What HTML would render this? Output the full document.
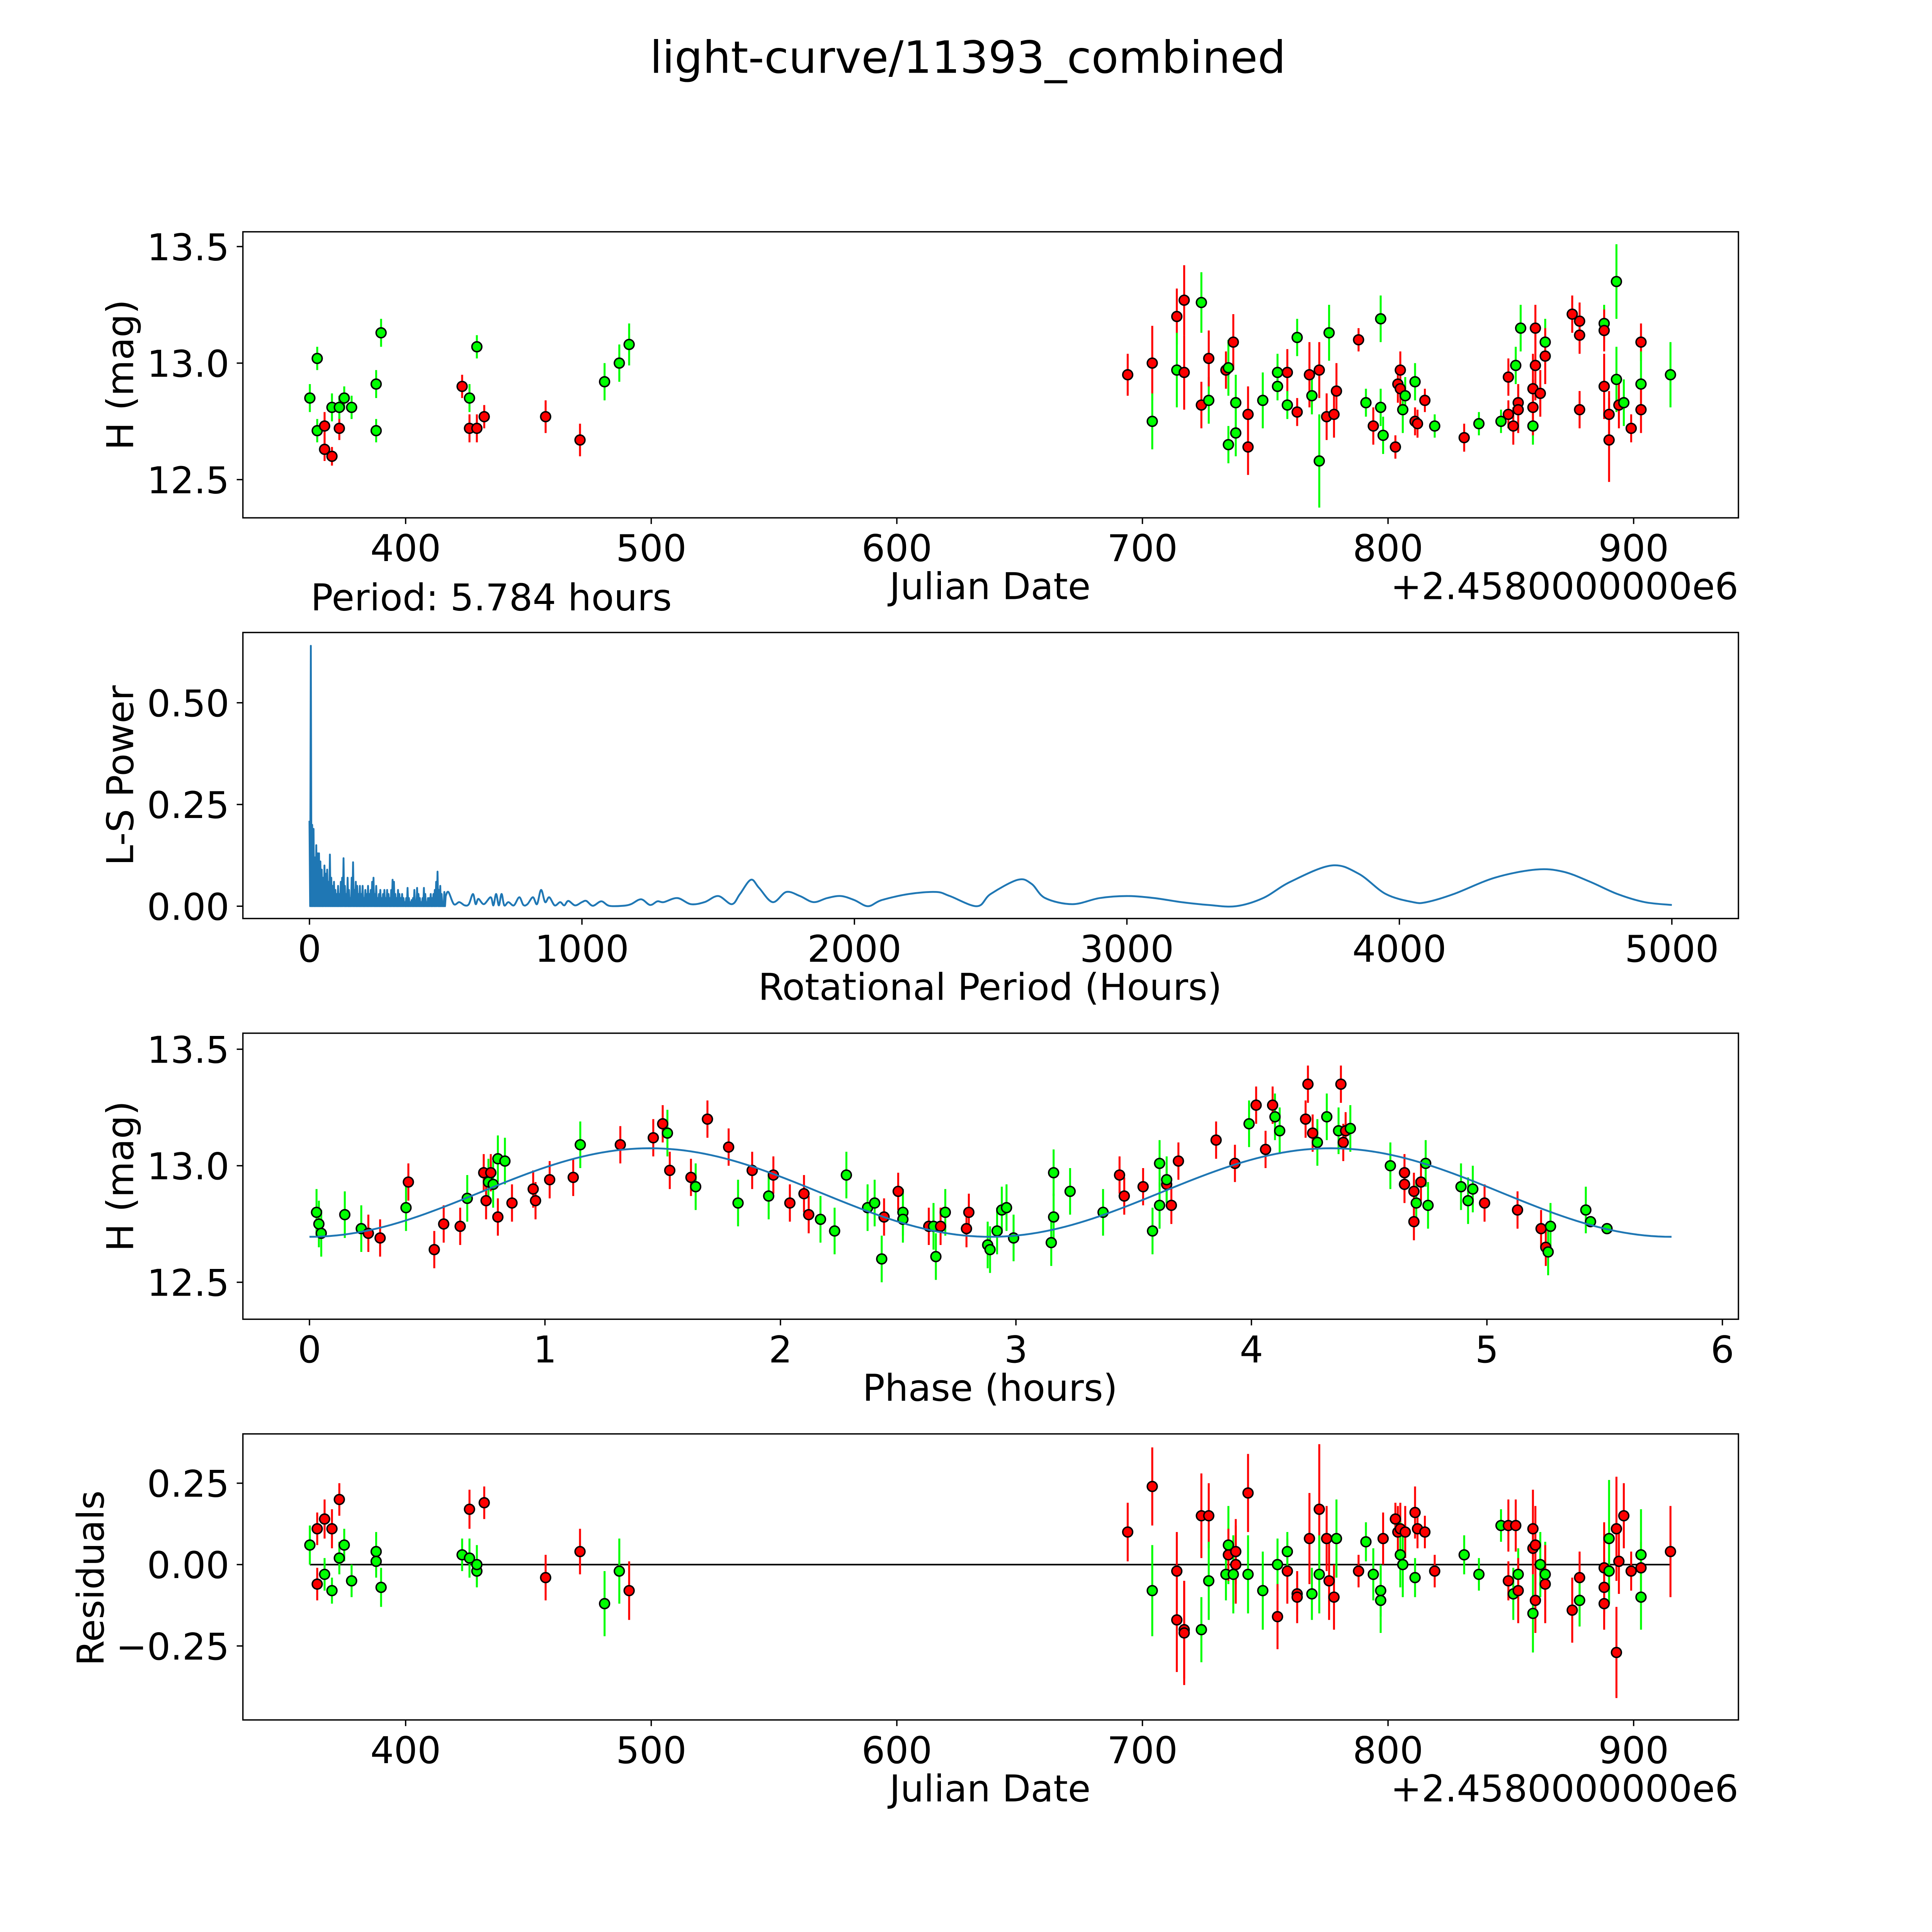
<!DOCTYPE html>
<html><head><meta charset="utf-8"><style>
html,body{margin:0;padding:0;background:#fff;overflow:hidden;}
svg{display:block;width:100vw;height:100vh;font-family:"DejaVu Sans","Liberation Sans",sans-serif;}
</style></head><body>
<svg id="chart" viewBox="0 0 1567 1567" preserveAspectRatio="xMinYMin meet" xmlns="http://www.w3.org/2000/svg">
<rect width="1567" height="1567" fill="#fff"/>
<text x="785" y="59" font-size="36" text-anchor="middle">light-curve/11393_combined</text>
<g id="root"></g>
</svg>
<script>
// ---- Data ----
// Panel 1: light curve [julianDate-2458000, mag, err, band]
const lcJD  = [361,364,364,367,367,370,370,373,373,375,378,388,388,390,423,426,426,429,429,432,457,471,481,487,491,
694,704,704,714,714,717,717,724,724,727,727,734,735,735,737,738,738,743,743,749,755,755,759,759,763,763,768,769,772,772,775,776,779,778,788,791,794,797,797,798,803,804,805,805,806,807,811,811,812,815,819,831,837,846,849,849,851,852,853,853,854,859,859,859,860,860,862,864,864,875,878,878,878,888,888,888,890,890,893,893,894,896,899,903,903,903,915];
const lcMag = [12.85,13.02,12.71,12.73,12.63,12.81,12.60,12.72,12.81,12.85,12.81,12.91,12.71,13.13,12.90,12.85,12.72,13.07,12.72,12.77,12.77,12.67,12.92,13.00,13.08,
12.95,13.00,12.75,13.20,12.97,13.27,12.96,13.26,12.82,12.84,13.02,12.97,12.98,12.65,13.09,12.70,12.83,12.78,12.64,12.84,12.96,12.90,12.96,12.82,12.79,13.11,12.95,12.86,12.97,12.58,12.77,13.13,12.88,12.78,13.10,12.83,12.73,12.81,13.19,12.69,12.64,12.91,12.97,12.89,12.80,12.86,12.92,12.75,12.74,12.84,12.73,12.68,12.74,12.75,12.94,12.78,12.73,12.99,12.83,12.80,13.15,12.73,12.81,12.89,12.99,13.15,12.87,13.09,13.03,13.21,13.18,13.12,12.80,13.17,13.14,12.90,12.67,12.78,13.35,12.93,12.82,12.83,12.72,13.09,12.91,12.80,12.95];
const lcErr = [0.06,0.05,0.05,0.06,0.05,0.06,0.04,0.05,0.05,0.05,0.05,0.06,0.05,0.06,0.05,0.06,0.06,0.05,0.06,0.05,0.07,0.07,0.08,0.08,0.09,
0.09,0.16,0.12,0.12,0.16,0.15,0.16,0.13,0.1,0.1,0.12,0.08,0.12,0.08,0.12,0.1,0.12,0.12,0.12,0.12,0.08,0.06,0.1,0.06,0.06,0.08,0.14,0.08,0.12,0.2,0.1,0.12,0.12,0.1,0.05,0.06,0.08,0.08,0.1,0.08,0.05,0.08,0.08,0.1,0.1,0.08,0.08,0.06,0.06,0.05,0.05,0.06,0.05,0.05,0.08,0.06,0.08,0.08,0.08,0.1,0.1,0.08,0.12,0.15,0.15,0.1,0.1,0.1,0.12,0.08,0.08,0.08,0.08,0.08,0.09,0.14,0.18,0.1,0.16,0.14,0.1,0.1,0.06,0.08,0.14,0.1,0.14];
const lcBand= "gggrrgrrggggggrgrgrrrrgggrrgrgrrgrgrrggrggrrgggrgrgrgrgrgrrrgrgggrrrrgggrrrgrggrrrgrrggrrrrrgrrrrrgrrrrggrgrrgrgrrrrrggrr";

// Panel 2: Lomb-Scargle periodogram
const lsSpikePeriod = [0,5,10,15,20,25,30,35,40,45,50,55,60,65,70,75,80,85,90,95,100,105,110,115,120,125,130,135,140,145,150,155,160,165,170,175,180,185,190,195,200,205,210,215,220,225,230,235,240,245,250,255,260,265,270,275,280,285,290,295,300,305,310,315,320,325,330,335,340,345,350,355,360,365,370,375,380,385,390,395,400,405,410,415,420,425,430,435,440,445,450,455,460,465,470,475,480,485,490,495,500];
const lsSpikePower  = [0.21,0.64,0.2,0.19,0.12,0.15,0.13,0.13,0.11,0.09,0.07,0.1,0.08,0.09,0.06,0.127,0.07,0.05,0.06,0.04,0.03,0.05,0.03,0.06,0.07,0.118,0.05,0.03,0.07,0.04,0.02,0.07,0.108,0.04,0.06,0.05,0.03,0.05,0.03,0.05,0.02,0.04,0.03,0.05,0.03,0.04,0.06,0.07,0.03,0.05,0.02,0.03,0.04,0.02,0.03,0.04,0.02,0.04,0.03,0.02,0.04,0.065,0.06,0.03,0.02,0.04,0.03,0.02,0.03,0.02,0.01,0.02,0.045,0.02,0.01,0.015,0.02,0.04,0.01,0.045,0.03,0.02,0.01,0.02,0.045,0.03,0.01,0.02,0.02,0.03,0.02,0.03,0.04,0.06,0.085,0.04,0.05,0.03,0.01,0.035,0.025];
const lsSmoothPeriod = [510,530,550,570,585,600,610,620,640,665,675,685,695,705,715,730,750,770,785,800,820,835,850,865,880,900,920,935,950,975,1000,1016,1040,1071,1100,1150,1180,1217,1250,1277,1300,1350,1400,1450,1500,1550,1580,1620,1650,1700,1750,1800,1850,1900,1950,2000,2050,2100,2200,2300,2350,2450,2500,2600,2650,2700,2800,2900,3000,3100,3200,3300,3400,3500,3600,3750,3850,3950,4050,4100,4200,4350,4500,4600,4700,4800,4900,5000];
const lsSmoothPower  = [0.035,0.005,0.01,0.002,0.005,0.03,0.005,0.018,0.005,0.022,0.002,0.03,0.002,0.03,0.002,0.01,0.002,0.022,0.003,0.005,0.022,0.005,0.04,0.01,0.022,0.002,0.01,0.002,0.013,0.002,0.01,0.013,0.001,0.012,0.001,0.001,0.005,0.017,0.003,0.012,0.01,0.02,0.005,0.01,0.025,0.005,0.03,0.065,0.045,0.01,0.035,0.025,0.01,0.02,0.025,0.015,0.0,0.015,0.03,0.035,0.025,0.0,0.03,0.065,0.055,0.02,0.005,0.02,0.025,0.02,0.01,0.003,0.0,0.02,0.06,0.1,0.08,0.03,0.01,0.01,0.03,0.07,0.09,0.085,0.06,0.03,0.01,0.003];

// Panel 3: phased light curve [phase hours, mag, band]
const phPhase = [0.03,0.04,0.05,0.15,0.22,0.25,0.30,0.41,0.42,0.53,0.57,0.64,0.67,0.74,0.75,0.76,0.77,0.78,0.80,0.80,0.83,0.86,0.95,0.96,1.02,1.12,1.15,1.32,1.46,1.50,1.52,1.53,1.62,1.64,1.69,1.78,1.82,1.88,1.95,1.97,2.04,2.10,2.12,2.17,2.23,2.28,2.37,2.40,2.43,2.44,2.50,2.52,2.52,2.63,2.65,2.66,2.68,2.70,2.79,2.80,2.88,2.89,2.92,2.94,2.96,2.99,3.15,3.16,3.16,3.23,3.37,3.44,3.46,3.54,3.58,3.61,3.61,3.64,3.64,3.66,3.69,3.85,3.93,3.99,4.02,4.06,4.09,4.10,4.12,4.23,4.24,4.26,4.28,4.32,4.37,4.38,4.39,4.40,4.42,4.59,4.65,4.65,4.69,4.69,4.70,4.72,4.74,4.75,4.89,4.92,4.94,4.99,5.13,5.23,5.25,5.26,5.27,5.42,5.44,5.51];
const phMag = [12.80,12.75,12.71,12.79,12.73,12.71,12.69,12.82,12.93,12.64,12.75,12.74,12.86,12.97,12.85,12.93,12.97,12.92,12.78,13.03,13.02,12.84,12.90,12.85,12.94,12.95,13.09,13.09,13.12,13.18,13.14,12.98,12.95,12.91,13.20,13.08,12.84,12.98,12.87,12.96,12.84,12.88,12.79,12.77,12.72,12.96,12.82,12.84,12.60,12.78,12.89,12.80,12.77,12.74,12.74,12.61,12.74,12.80,12.73,12.80,12.66,12.64,12.72,12.81,12.82,12.69,12.67,12.78,12.97,12.89,12.80,12.96,12.87,12.91,12.72,12.83,13.01,12.92,12.94,12.83,13.02,13.11,13.01,13.18,13.26,13.07,13.26,13.21,13.15,13.20,13.35,13.14,13.10,13.21,13.15,13.35,13.10,13.15,13.16,13.00,12.97,12.92,12.89,12.76,12.84,12.93,13.01,12.83,12.91,12.85,12.90,12.84,12.81,12.73,12.65,12.63,12.74,12.81,12.76,12.73];
const phBand = "gggggrrgrrrrgrrgrgrggrrrrrgrrrgrrgrrgrgrrrrggggggrrggrggrgrrgggggggggggrrrgggrgrrrrgrrrggrrrgggrrrggrrrrgrgggggrrrrggg";
// fitted model (double-peaked sinusoid)
const modelPeriod = [5.784];
const modelParams = [12.885, 0.19, 0.0]; // mean, amplitude, phase offset

// Panel 4: residuals [julianDate-2458000, residual, band]
const rsJD = [361,364,364,367,367,370,370,373,373,375,378,388,388,390,423,426,426,429,429,432,457,471,481,487,491,
694,704,704,714,714,717,717,724,724,727,727,734,735,735,737,738,738,743,743,749,755,755,759,759,763,763,768,769,772,772,775,776,779,778,788,791,794,797,797,798,803,804,805,805,806,807,811,811,812,815,819,831,837,846,849,849,851,852,853,853,859,859,859,860,860,862,864,864,875,878,878,878,888,888,888,890,890,893,893,894,896,899,903,903,903,915];
const rsVal = [0.06,0.11,-0.06,0.14,-0.03,0.11,-0.08,0.20,0.02,0.06,-0.05,0.04,0.01,-0.07,0.03,0.17,0.02,-0.02,0.00,0.19,-0.04,0.04,-0.12,-0.02,-0.08,
0.10,0.24,-0.08,-0.02,-0.17,-0.20,-0.21,0.15,-0.20,0.15,-0.05,-0.03,0.06,0.03,-0.03,0.04,0.00,0.22,-0.03,-0.08,0.00,-0.16,-0.02,0.04,-0.09,-0.10,0.08,-0.09,0.17,-0.03,0.08,-0.05,0.08,-0.10,-0.02,0.07,-0.03,-0.08,-0.11,0.08,0.14,0.10,0.11,0.03,0.00,0.10,0.16,-0.04,0.11,0.10,-0.02,0.03,-0.03,0.12,0.12,-0.05,-0.09,0.12,-0.03,-0.08,0.05,-0.15,0.11,0.06,-0.11,0.00,-0.03,-0.06,-0.14,-0.11,-0.04,-0.11,-0.12,-0.07,-0.01,0.08,-0.02,-0.27,0.11,0.01,0.15,-0.02,-0.01,0.03,-0.10,0.04];
const rsErr = [0.06,0.05,0.05,0.06,0.05,0.06,0.04,0.05,0.05,0.05,0.05,0.06,0.05,0.06,0.05,0.06,0.06,0.05,0.06,0.05,0.07,0.07,0.1,0.1,0.09,
0.09,0.12,0.14,0.12,0.16,0.15,0.16,0.13,0.1,0.1,0.12,0.08,0.12,0.08,0.12,0.1,0.12,0.12,0.12,0.12,0.08,0.1,0.1,0.06,0.06,0.08,0.14,0.08,0.2,0.12,0.1,0.12,0.12,0.1,0.05,0.06,0.08,0.08,0.1,0.08,0.05,0.08,0.08,0.1,0.1,0.08,0.08,0.06,0.06,0.05,0.05,0.06,0.05,0.05,0.08,0.06,0.08,0.08,0.08,0.1,0.08,0.12,0.12,0.12,0.1,0.1,0.1,0.12,0.1,0.08,0.08,0.08,0.08,0.09,0.14,0.18,0.1,0.14,0.16,0.1,0.1,0.06,0.08,0.14,0.1,0.14];
const rsBand = "grrrgrgrgggggggrgggrrrggrrrgrrrrrgrgggrgrrrgggrrgrrrgrgrrgrrggggrrrrggrrgrrrgggrrgrgrrgrrrggrrrrgrrrggrrrrrrggr";

// ---- Drawing ----
const NS = "http://www.w3.org/2000/svg";
const root = document.getElementById('root');
function mk(tag, attrs, parent){ const e=document.createElementNS(NS,tag); for(const k in attrs) e.setAttribute(k,attrs[k]); (parent||root).appendChild(e); return e; }
function lin(d0,d1,p0,p1){ return v => p0 + (v-d0)*(p1-p0)/(d1-d0); }
const COL = {r:'#ff0000', g:'#00ff00'};
const TICKF = 30, LABF = 30;

function axes(name, box, xs, ys, xt, xtl, yt, ytl){
  const g = mk('g',{});
  
  
  xt.forEach((v,i)=>{ const x=xs(v);
    mk('line',{x1:x,x2:x,y1:box.b,y2:box.b+5,stroke:'#000','stroke-width':1.1},g);
    const t=mk('text',{x:x,y:box.b+35,'font-size':TICKF,'text-anchor':'middle'},g); t.textContent=xtl[i];
    
    
  });
  yt.forEach((v,i)=>{ const y=ys(v);
    mk('line',{x1:box.l-5,x2:box.l,y1:y,y2:y,stroke:'#000','stroke-width':1.1},g);
    const t=mk('text',{x:box.l-11,y:y+11,'font-size':TICKF,'text-anchor':'end'},g); t.textContent=ytl[i];
    
    
  });
  return g;
}
function frame(box){ mk('rect',{x:box.l,y:box.t,width:box.r-box.l,height:box.b-box.t,fill:'none',stroke:'#000','stroke-width':1.1}); }
function label(txt,x,y,rot,name,anchor){
  const t=mk('text',{x:x,y:y,'font-size':LABF,'text-anchor':anchor||'middle'});
  if(rot) t.setAttribute('transform','rotate(-90 '+x+' '+y+')');
  t.textContent=txt;
  
  
}
function points(name, xs, ys, X, Y, E, B){
  const g=mk('g',{});
  
  
  for(let i=0;i<X.length;i++){
    const c=COL[B[i]]||COL.g, x=xs(X[i]);
    if(E){ mk('line',{x1:x,x2:x,y1:ys(Y[i]-E[i]),y2:ys(Y[i]+E[i]),stroke:c,'stroke-width':1.6},g); }
  }
  for(let i=0;i<X.length;i++){
    const c=COL[B[i]]||COL.g;
    const p=mk('circle',{cx:xs(X[i]),cy:ys(Y[i]),r:4,fill:c,stroke:'#000','stroke-width':1.2},g);
    
    
  }
}

// Panel 1
const b1={l:197,r:1410,t:188,b:420};
const x1=lin(400,900,329,1325), y1=lin(13.5,12.5,200,389);
points('light-curve-points',x1,y1,lcJD,lcMag,lcErr,lcBand);
frame(b1);
axes('light-curve-axes',b1,x1,y1,[400,500,600,700,800,900],['400','500','600','700','800','900'],[12.5,13.0,13.5],['12.5','13.0','13.5']);
label('Julian Date',803,486,false,'x-axis-title-julian-date');
label('+2.4580000000e6',1410,486,false,'x-axis-offset','end');
label('H (mag)',108,304,true,'y-axis-title-h-mag');
label('Period: 5.784 hours',252,495,false,'period-annotation','start');

// Panel 2
const b2={l:197,r:1410,t:513,b:745};
const x2=lin(0,5000,251,1356), y2=lin(0,0.5,735,570);
let d='';
for(let i=0;i<lsSpikePeriod.length;i++){
  const x=x2(lsSpikePeriod[i]);
  d += (i? 'L':'M')+x.toFixed(2)+','+y2(lsSpikePower[i]).toFixed(2);
  if(i<lsSpikePeriod.length-1){ d+='L'+(x+0.55).toFixed(2)+','+y2(0).toFixed(2); }
}
{
  const P=[[x2(lsSpikePeriod[lsSpikePeriod.length-1]),y2(lsSpikePower[lsSpikePower.length-1])]];
  for(let i=0;i<lsSmoothPeriod.length;i++) P.push([x2(lsSmoothPeriod[i]),y2(lsSmoothPower[i])]);
  for(let i=0;i<P.length-1;i++){
    const p0=P[Math.max(0,i-1)],p1=P[i],p2=P[i+1],p3=P[Math.min(P.length-1,i+2)];
    const c1=[p1[0]+(p2[0]-p0[0])/6,p1[1]+(p2[1]-p0[1])/6], c2=[p2[0]-(p3[0]-p1[0])/6,p2[1]-(p3[1]-p1[1])/6];
    d+='C'+c1[0].toFixed(2)+','+c1[1].toFixed(2)+' '+c2[0].toFixed(2)+','+c2[1].toFixed(2)+' '+p2[0].toFixed(2)+','+p2[1].toFixed(2);
  }
}
const ls=mk('path',{d:d,fill:'none',stroke:'#1f77b4','stroke-width':1.5,'stroke-linejoin':'round'});


frame(b2);
axes('periodogram-axes',b2,x2,y2,[0,1000,2000,3000,4000,5000],['0','1000','2000','3000','4000','5000'],[0,0.25,0.5],['0.00','0.25','0.50']);
label('Rotational Period (Hours)',803,811,false,'x-axis-title-rotational-period');
label('L-S Power',108,629,true,'y-axis-title-ls-power');

// Panel 3
const b3={l:197,r:1410,t:838,b:1070};
const x3=lin(0,6,251,1397), y3=lin(13.5,12.5,851,1040);
(function(){ const g=mk('g',{});
  
  
  for(let i=0;i<phPhase.length;i++){ const x=x3(phPhase[i]); const e=(phBand[i]==='g'?0.1:0.08);
    mk('line',{x1:x,x2:x,y1:y3(phMag[i]-e),y2:y3(phMag[i]+e),stroke:COL[phBand[i]],'stroke-width':1.6},g); }
})();
points('phased-points',x3,y3,phPhase,phMag,null,phBand);
let md='';
for(let k=0;k<=200;k++){ const p=modelPeriod[0]*k/200;
  const m=modelParams[0]-modelParams[1]*Math.cos(4*Math.PI*(p-modelParams[2])/modelPeriod[0]);
  md+=(k?'L':'M')+x3(p).toFixed(2)+','+y3(m).toFixed(2); }
const ml=mk('path',{d:md,fill:'none',stroke:'#1f77b4','stroke-width':1.5});


frame(b3);
axes('phase-axes',b3,x3,y3,[0,1,2,3,4,5,6],['0','1','2','3','4','5','6'],[12.5,13.0,13.5],['12.5','13.0','13.5']);
label('Phase (hours)',803,1136,false,'x-axis-title-phase');
label('H (mag)',108,954,true,'y-axis-title-h-mag-phase');

// Panel 4
const b4={l:197,r:1410,t:1163,b:1395};
const x4=lin(400,900,329,1325), y4=lin(0.25,-0.25,1203,1335);
const zl=mk('line',{x1:x4(361),x2:x4(915),y1:y4(0),y2:y4(0),stroke:'#000','stroke-width':1.3});


points('residual-points',x4,y4,rsJD,rsVal,rsErr,rsBand);
frame(b4);
axes('residual-axes',b4,x4,y4,[400,500,600,700,800,900],['400','500','600','700','800','900'],[-0.25,0,0.25],['\u22120.25','0.00','0.25']);
label('Julian Date',803,1461,false,'x-axis-title-julian-date-residuals');
label('+2.4580000000e6',1410,1461,false,'x-axis-offset-residuals','end');
label('Residuals',84,1280,true,'y-axis-title-residuals');
</script>
</body></html>
